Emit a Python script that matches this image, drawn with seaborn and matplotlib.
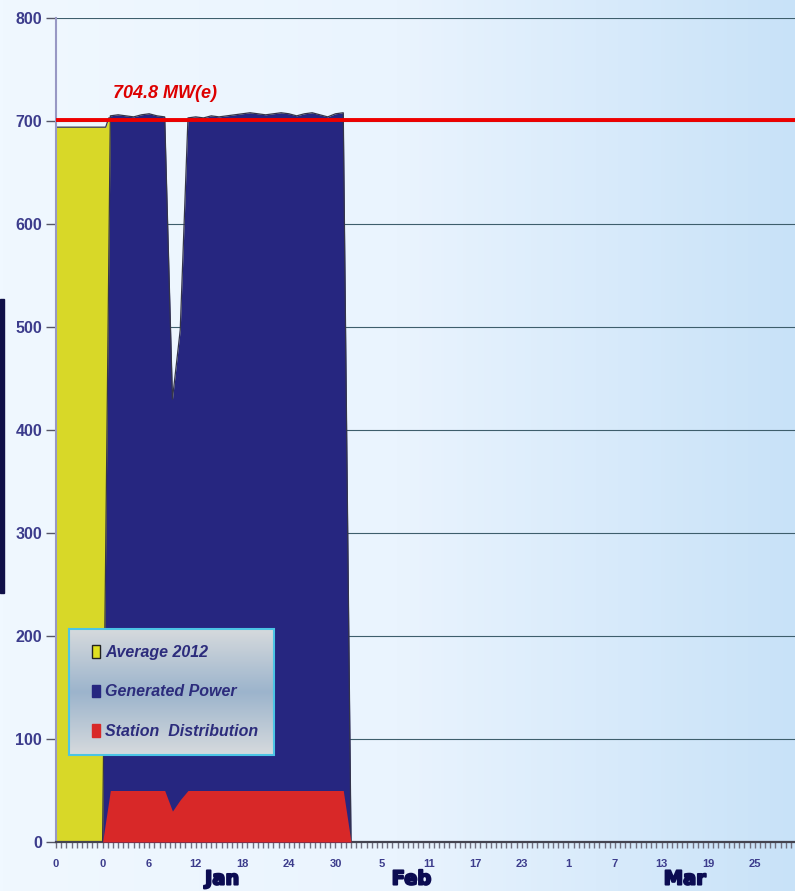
import numpy as np
import pandas as pd
import matplotlib
matplotlib.use("Agg")
import matplotlib.pyplot as plt
import matplotlib.patheffects as pe
import seaborn as sns
from matplotlib.patches import Rectangle, Patch
from matplotlib.ticker import MultipleLocator, FixedLocator
from matplotlib.colors import LinearSegmentedColormap

# ---- data (x = day index, 0 = 31 Dec, 1 = 1 Jan ...) ----
avg_days = [-6, 0.4, 0.8, 1.0]
avg_mw = [694, 694, 703, 703]

gen_days = list(range(0, 33))
gen_mw = [0, 705, 706, 705, 704, 706, 707, 705, 704, 430, 497, 703, 704, 703, 705, 704,
          705, 706, 707, 708, 707, 706, 707, 708, 707, 705, 707, 708, 706, 704, 707, 708, 0]
station_mw = [0, 50, 50, 50, 50, 50, 50, 50, 50, 30, 41, 50, 50, 50, 50, 50,
              50, 50, 50, 50, 50, 50, 50, 50, 50, 50, 50, 50, 50, 50, 50, 50, 0]

rated_mw = 701
rated_label = "704.8 MW(e)"

tick_pos = [-6, 0, 6, 12, 18, 24, 30, 36, 42, 48, 54, 60, 66, 72, 78, 84]
tick_lbl = ["0", "0", "6", "12", "18", "24", "30", "5", "11", "17", "23", "1", "7", "13", "19", "25"]
months = ["Jan", "Feb", "Mar"]
month_pos = [15.4, 39.8, 75]

df = pd.DataFrame({"day": gen_days, "gen": gen_mw, "station": station_mw})
df_avg = pd.DataFrame({"day": avg_days, "mw": avg_mw})

sns.set_theme(style="white")
plt.rcParams["font.family"] = ["Liberation Sans", "DejaVu Sans"]

fig = plt.figure(figsize=(7.95, 8.91), dpi=100)

# background gradient
bg = fig.add_axes([0, 0, 1, 1], zorder=-10)
cmap_bg = LinearSegmentedColormap.from_list("bg", ["#f0f8ff", "#eaf4fe", "#c8e2f8"])
bg.imshow(np.linspace(0, 1, 256).reshape(1, -1), aspect="auto", cmap=cmap_bg, extent=[0, 1, 0, 1])
bg.axis("off")
fig.patches.append(Rectangle((0, 298 / 891), 4 / 795, 294 / 891, transform=fig.transFigure,
                             color="#101048", zorder=5))

ax = fig.add_axes([56 / 795, 49 / 891, 739 / 795, 824 / 891])
ax.set_facecolor("none")

edge = "#34344a"
ax.fill_between(df_avg["day"], df_avg["mw"], color="#d8d828", zorder=2, lw=0)
sns.lineplot(data=df_avg, x="day", y="mw", color=edge, lw=0.9, ax=ax, zorder=2.1)
ax.fill_between(df["day"], df["gen"], color="#262680", zorder=3, lw=0)
sns.lineplot(data=df, x="day", y="gen", color=edge, lw=0.9, ax=ax, zorder=3.1)
ax.fill_between(df["day"], df["station"], color="#d82828", zorder=4, lw=0)

ax.axhline(rated_mw, color="#ee0000", lw=2.8, zorder=6)
ax.text(1.3, 722, rated_label, color="#dd0000", fontsize=13, fontweight="bold",
        fontstyle="italic", zorder=7)

ax.set_xlim(-6, (795 - 102) / 7.77)
ax.set_ylim(0, 800)
ax.set_xlabel("")
ax.set_ylabel("")

ax.yaxis.set_major_locator(MultipleLocator(100))
ax.grid(axis="y", color="#3e5e6c", lw=0.8, zorder=0)
ax.grid(axis="x", visible=False)
ax.set_axisbelow(True)

ax.xaxis.set_major_locator(FixedLocator(tick_pos))
ax.set_xticklabels(tick_lbl)
ax.xaxis.set_minor_locator(MultipleLocator(2 / 3))
ax.tick_params(axis="x", which="both", bottom=True, length=4, width=1, color="#707080",
               direction="out", pad=8, labelsize=8, labelcolor="#3c3c8c")
ax.tick_params(axis="y", left=True, length=7, width=1, color="#555566", pad=3,
               labelsize=11.5, labelcolor="#3c3c8c")
for lab in ax.get_xticklabels() + ax.get_yticklabels():
    lab.set_fontweight("bold")

for s in ["top", "right"]:
    ax.spines[s].set_visible(False)
ax.spines["left"].set_color("#9898c4")
ax.spines["left"].set_linewidth(1.5)
ax.spines["bottom"].set_color("#444450")
ax.spines["bottom"].set_linewidth(1.6)

for m, p in zip(months, month_pos):
    ax.text(p, -36, m, ha="center", va="center", fontsize=14, fontweight="bold",
            color="#0c0c52", family=["DejaVu Sans"], clip_on=False,
            path_effects=[pe.withStroke(linewidth=1.4, foreground="#0c0c52")])

# legend with gradient box
lx0, ly0, lw_, lh = (69 - 56) / 739, (842 - 755) / 824, (274 - 69) / 739, (755 - 629) / 824
cmap_lg = LinearSegmentedColormap.from_list("lg", ["#d6dadd", "#9cb4cc", "#d6dadd"])
ax.imshow(np.linspace(0, 1, 256).reshape(-1, 1), aspect="auto", cmap=cmap_lg,
          extent=[lx0, lx0 + lw_, ly0, ly0 + lh], transform=ax.transAxes, zorder=8)
ax.set_xlim(-6, (795 - 102) / 7.77)
ax.set_ylim(0, 800)
ax.add_patch(Rectangle((lx0, ly0), lw_, lh, transform=ax.transAxes, fill=False,
                       edgecolor="#4cc4e4", lw=1.5, zorder=9))
handles = [Patch(facecolor="#e0e020", edgecolor="#222222", lw=1),
           Patch(facecolor="#262680", edgecolor="#262680"),
           Patch(facecolor="#d82828", edgecolor="#d82828")]
labels = ["Average 2012", "Generated Power", "Station  Distribution"]
leg = ax.legend(handles, labels, loc="center left",
                bbox_to_anchor=(lx0 + 0.011, ly0 + lh / 2), frameon=False,
                handlelength=0.55, handleheight=0.85, handletextpad=0.3, labelspacing=1.55,
                prop={"size": 11.5, "weight": "bold", "style": "italic"})
leg.set_zorder(10)
for t in leg.get_texts():
    t.set_color("#2c2c7c")

fig.savefig("out.png", dpi=100)
